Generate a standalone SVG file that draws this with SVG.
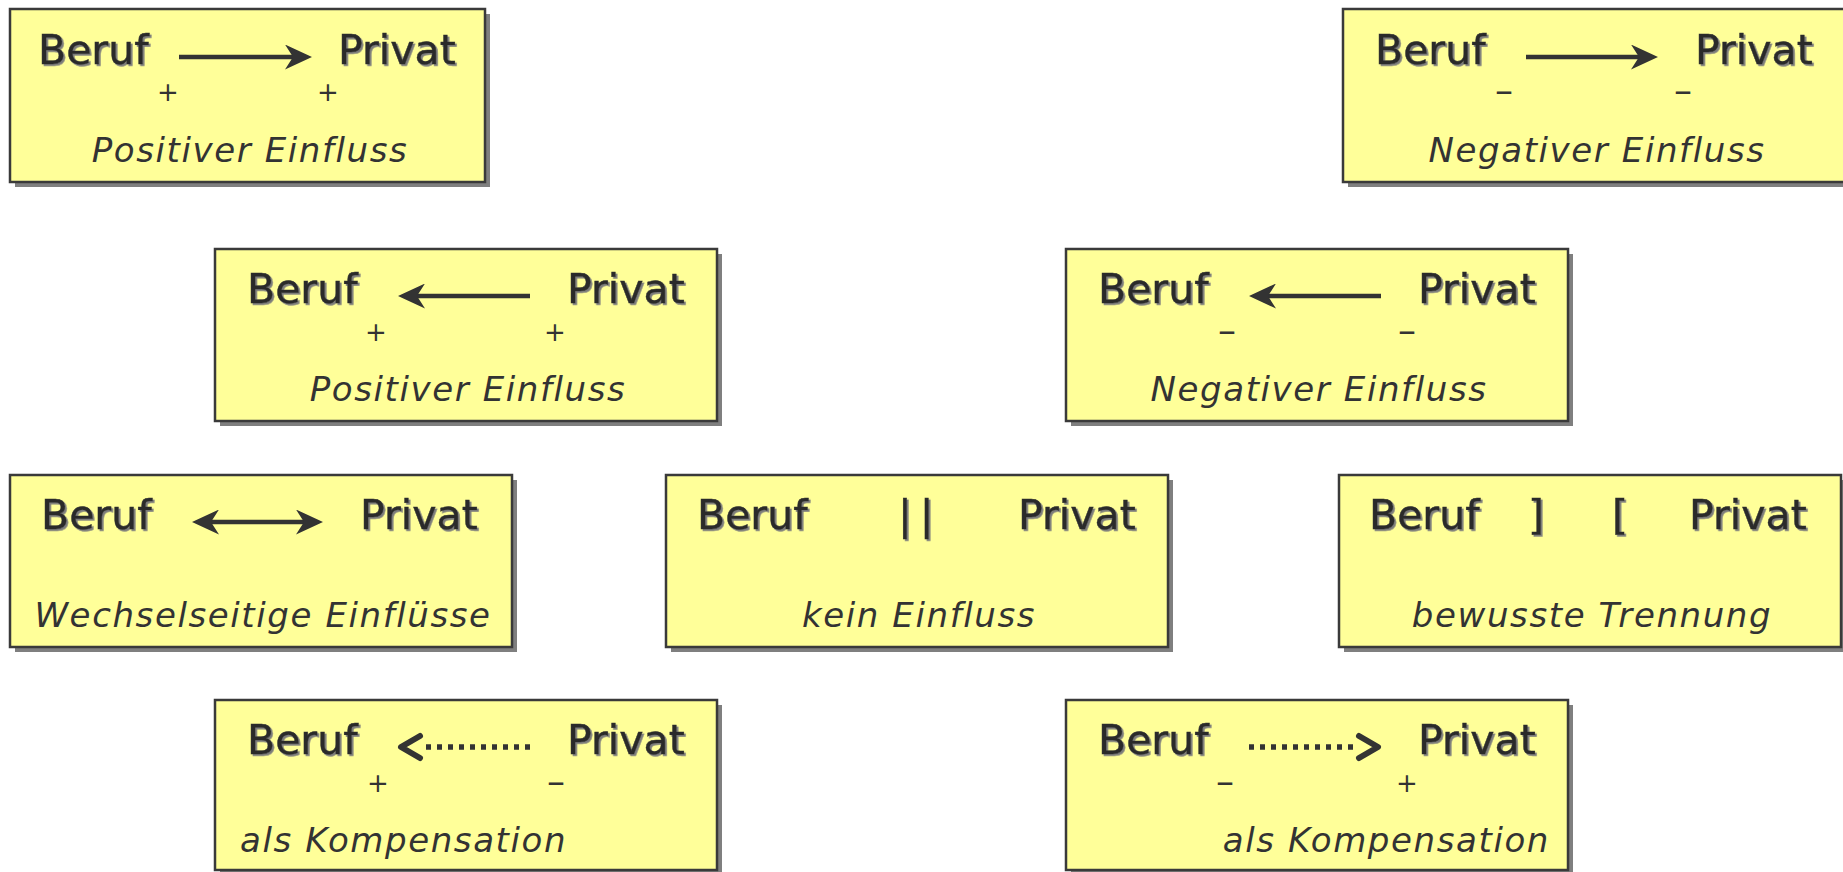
<svg xmlns="http://www.w3.org/2000/svg" width="1843" height="872" viewBox="0 0 1843 872">
<style>
.box{fill:#ffff99;stroke:#3a3a3a;stroke-width:2.5}
.shd{fill:#7f7f7f}
.lbl{font-family:"DejaVu Sans",Verdana,sans-serif;font-size:41px;fill:#2b2b2b;stroke:#2b2b2b;stroke-width:0.45;filter:url(#ts)}
.cap{font-family:"DejaVu Sans",Verdana,sans-serif;font-size:34px;font-style:italic;fill:#333;letter-spacing:1.6px}
.pm{font-family:"DejaVu Sans",Verdana,sans-serif;font-size:26px;fill:#333;text-anchor:middle}
.mn{font-family:"DejaVu Sans",Verdana,sans-serif;font-size:36px;fill:#333;text-anchor:middle}
.mid{text-anchor:middle}
.end{text-anchor:end}
.sol{stroke:#333;stroke-width:4.5;fill:none;marker-end:url(#ah)}
.dot{stroke:#333;stroke-width:5.5;fill:none;stroke-dasharray:5 6;marker-end:url(#dh)}
</style>
<defs>
<filter id="ts" x="-10%" y="-10%" width="130%" height="140%">
<feDropShadow dx="1.8" dy="1.8" stdDeviation="0.4" flood-color="#7a7a7a" flood-opacity="1"/>
</filter>
<marker id="ah" markerUnits="userSpaceOnUse" viewBox="0 0 27 25" markerWidth="27" markerHeight="25" refX="8" refY="12.5" orient="auto-start-reverse">
<path d="M0,0 L27,12.5 L0,25 L8,12.5 Z" fill="#333"/>
</marker>
<marker id="dh" markerUnits="userSpaceOnUse" viewBox="-4 -15 28 30" markerWidth="28" markerHeight="30" refX="0" refY="0" orient="auto">
<path d="M0,-11 L19,0 L0,11" fill="none" stroke="#333" stroke-width="6" stroke-linecap="round" stroke-linejoin="round"/>
</marker>
</defs>

<g id="node-a">
<rect class="shd" x="15" y="14" width="475" height="173"/>
<rect class="box" x="10" y="9" width="475" height="173"/>
<text class="lbl" x="38" y="64">Beruf</text>
<text class="lbl" x="338" y="64">Privat</text>
<text class="pm" x="168" y="101">+</text>
<text class="pm" x="328" y="101">+</text>
<text class="cap mid" x="250" y="162">Positiver Einfluss</text>
</g>

<g id="node-b">
<rect class="shd" x="1348" y="14" width="502" height="173"/>
<rect class="box" x="1343" y="9" width="502" height="173"/>
<text class="lbl" x="1375" y="64">Beruf</text>
<text class="lbl" x="1695" y="64">Privat</text>
<text class="mn" x="1504" y="103">–</text>
<text class="mn" x="1683" y="103">–</text>
<text class="cap mid" x="1597" y="162">Negativer Einfluss</text>
</g>

<g id="node-c">
<rect class="shd" x="220" y="254" width="502" height="172"/>
<rect class="box" x="215" y="249" width="502" height="172"/>
<text class="lbl" x="247" y="303">Beruf</text>
<text class="lbl" x="567" y="303">Privat</text>
<text class="pm" x="376" y="341">+</text>
<text class="pm" x="555" y="341">+</text>
<text class="cap mid" x="468" y="401">Positiver Einfluss</text>
</g>

<g id="node-d">
<rect class="shd" x="1071" y="254" width="502" height="172"/>
<rect class="box" x="1066" y="249" width="502" height="172"/>
<text class="lbl" x="1098" y="303">Beruf</text>
<text class="lbl" x="1418" y="303">Privat</text>
<text class="mn" x="1227" y="343">–</text>
<text class="mn" x="1407" y="343">–</text>
<text class="cap mid" x="1319" y="401">Negativer Einfluss</text>
</g>

<g id="node-e">
<rect class="shd" x="15" y="480" width="502" height="172"/>
<rect class="box" x="10" y="475" width="502" height="172"/>
<text class="lbl" x="41" y="529">Beruf</text>
<text class="lbl" x="360" y="529">Privat</text>
<text class="cap mid" x="263" y="627">Wechselseitige Einflüsse</text>
</g>

<g id="node-f">
<rect class="shd" x="671" y="480" width="502" height="172"/>
<rect class="box" x="666" y="475" width="502" height="172"/>
<text class="lbl" x="697" y="529">Beruf</text>
<text class="lbl" x="898" y="529" style="letter-spacing:8px">||</text>
<text class="lbl" x="1018" y="529">Privat</text>
<text class="cap mid" x="919" y="627">kein Einfluss</text>
</g>

<g id="node-g">
<rect class="shd" x="1344" y="480" width="502" height="172"/>
<rect class="box" x="1339" y="475" width="502" height="172"/>
<text class="lbl" x="1369" y="529">Beruf</text>
<text class="lbl mid" x="1536" y="529">]</text>
<text class="lbl mid" x="1620" y="529">[</text>
<text class="lbl" x="1689" y="529">Privat</text>
<text class="cap mid" x="1592" y="627">bewusste Trennung</text>
</g>

<g id="node-h">
<rect class="shd" x="220" y="705" width="502" height="172"/>
<rect class="box" x="215" y="700" width="502" height="170"/>
<text class="lbl" x="247" y="754">Beruf</text>
<text class="lbl" x="567" y="754">Privat</text>
<text class="pm" x="378" y="792">+</text>
<text class="mn" x="556" y="794">–</text>
<text class="cap" x="240" y="852">als Kompensation</text>
</g>

<g id="node-i">
<rect class="shd" x="1071" y="705" width="502" height="172"/>
<rect class="box" x="1066" y="700" width="502" height="170"/>
<text class="lbl" x="1098" y="754">Beruf</text>
<text class="lbl" x="1418" y="754">Privat</text>
<text class="mn" x="1225" y="794">–</text>
<text class="pm" x="1407" y="792">+</text>
<text class="cap end" x="1550" y="852">als Kompensation</text>
</g>

<g id="connectors">
<line class="sol" x1="179" y1="57" x2="293" y2="57"/>
<line class="sol" x1="1526" y1="57" x2="1639" y2="57"/>
<line class="sol" x1="530" y1="296" x2="417" y2="296"/>
<line class="sol" x1="1381" y1="296" x2="1268" y2="296"/>
<line class="sol" x1="211" y1="522" x2="304" y2="522" style="marker-start:url(#ah)"/>
<line class="dot" x1="530" y1="747" x2="420" y2="747"/>
<line class="dot" x1="1249" y1="747" x2="1359" y2="747"/>
</g>
</svg>
